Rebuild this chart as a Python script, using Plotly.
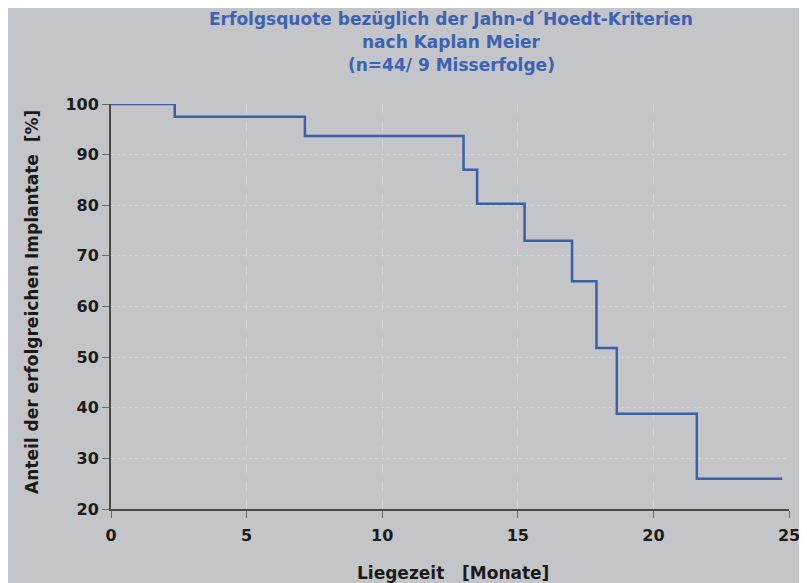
import plotly.graph_objects as go

months = [0, 2.35, 7.15, 13.0, 13.5, 15.25, 17.0, 17.9, 18.65, 21.6, 24.75]
survival = [100, 97.5, 93.7, 87.0, 80.3, 73.0, 65.0, 51.8, 38.8, 26.0, 26.0]
x_ticks = [0, 5, 10, 15, 20, 25]
y_ticks = [20, 30, 40, 50, 60, 70, 80, 90, 100]

title_lines = ["Erfolgsquote bezüglich der Jahn-d´Hoedt-Kriterien",
               "nach Kaplan Meier",
               "(n=44/ 9 Misserfolge)"]
x_title = "Liegezeit&nbsp;&nbsp; [Monate]"
y_title = "Anteil der erfolgreichen Implantate&nbsp; [%]"

# page body keeps its default 8px margin -> white strip at top/left like the reference
W, H = 799, 575
ML, MR, MT, MB = 103, 18, 96, 74
PW, PH = W - ML - MR, H - MT - MB
BG = "#c3c5c8"
FAM = "DejaVu Sans, Verdana, sans-serif"

fig = go.Figure()
fig.add_trace(go.Scatter(x=months, y=survival, mode="lines",
                         line=dict(shape="hv", color="#3b5fa9", width=2.5),
                         showlegend=False, hoverinfo="skip"))

font = dict(family=FAM, size=16, color="#1a1a1a")
fig.update_layout(
    width=W, height=H,
    paper_bgcolor=BG, plot_bgcolor=BG,
    margin=dict(l=ML, r=MR, t=MT, b=MB),
    font=font,
)

# title lines
for txt, ypx in zip(title_lines, [11, 34, 57]):
    fig.add_annotation(text=f"<b>{txt}</b>", xref="paper", yref="paper",
                       x=(443 - ML) / PW, y=1, yshift=MT - ypx, showarrow=False,
                       xanchor="center", yanchor="middle",
                       font=dict(family=FAM, size=17, color="#3d62b3"))
# axis titles
fig.add_annotation(text=f"<b>{x_title}</b>", xref="paper", yref="paper",
                   x=(445 - ML) / PW, y=0, yshift=-(565 - (H - MB)),
                   showarrow=False, xanchor="center", yanchor="middle",
                   font=dict(family=FAM, size=17, color="#1a1a1a"))
fig.add_annotation(text=f"<b>{y_title}</b>", xref="paper", yref="paper",
                   x=0, xshift=-(ML - 24), y=(H - MB - 294) / PH,
                   showarrow=False, xanchor="center", yanchor="middle", textangle=-90,
                   font=dict(family=FAM, size=17, color="#1a1a1a"))

fig.update_xaxes(range=[0, 25], tickvals=x_ticks,
                 ticktext=[f"<b>{v}</b>" for v in x_ticks],
                 showline=True, linecolor="#4a4a4a", linewidth=2,
                 ticks="outside", ticklen=7, tickcolor="#6a6a6a", tickwidth=1,
                 ticklabelstandoff=4,
                 showgrid=True, gridcolor="#d3d5d7", griddash="dash", gridwidth=1,
                 zeroline=False, automargin=False,
                 tickfont=dict(family=FAM, size=16, color="#1a1a1a"))
fig.update_yaxes(range=[20, 100], tickvals=y_ticks,
                 ticktext=[f"<b>{v}</b>" for v in y_ticks],
                 showline=True, linecolor="#4a4a4a", linewidth=2,
                 ticks="outside", ticklen=7, tickcolor="#6a6a6a", tickwidth=1,
                 showgrid=True, gridcolor="#d3d5d7", griddash="dot", gridwidth=1,
                 zeroline=False, automargin=False,
                 tickfont=dict(family=FAM, size=16, color="#1a1a1a"))

fig.write_html("out.html")
